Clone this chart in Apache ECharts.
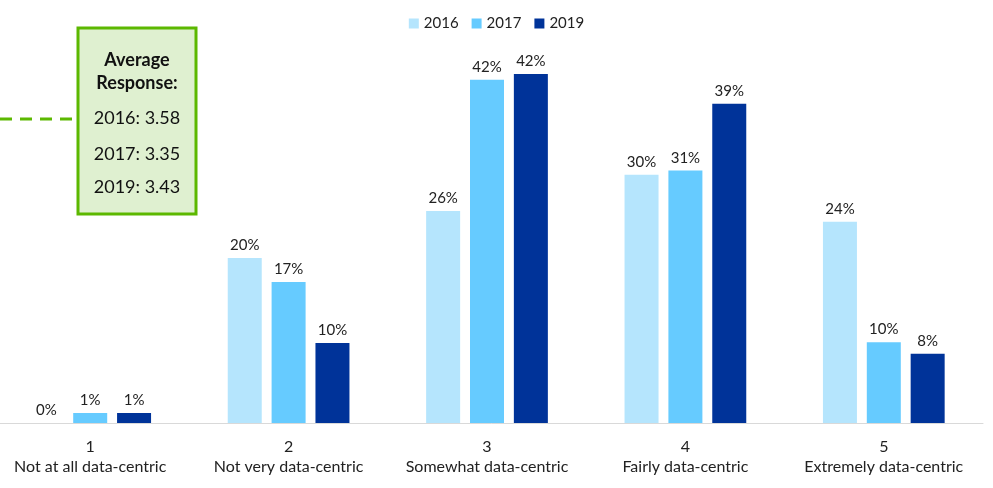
<!DOCTYPE html>
<html>
<head>
<meta charset="utf-8">
<script src="https://cdn.jsdelivr.net/npm/echarts@6/dist/echarts.min.js"></script>
<style>html,body{margin:0;padding:0;background:#fff}#c{width:993px;height:488px}</style>
</head>
<body>
<div id="c"></div>
<script>
const categories = ['1\nNot at all data-centric', '2\nNot very data-centric', '3\nSomewhat data-centric', '4\nFairly data-centric', '5\nExtremely data-centric'];
const seriesNames = ['2016', '2017', '2019'];
const values2016 = [0, 20.0, 25.7, 30.1, 24.4];
const values2017 = [1.2, 17.1, 41.6, 30.6, 9.8];
const values2019 = [1.2, 9.7, 42.3, 38.7, 8.4];
const averageTitle = ['Average', 'Response:'];
const averages = ['2016: 3.58', '2017: 3.35', '2019: 3.43'];
const colors = ['#b5e5fd', '#66cbff', '#003399'];

const chart = echarts.init(document.getElementById('c'));
const font = 'Lato, "Open Sans", sans-serif';
const mk = (name, data, color) => ({
  name, type: 'bar', data, barWidth: 34, barGap: '29%',
  itemStyle: { color },
  label: { show: true, position: 'top', distance: 5, color: '#222', fontSize: 15, fontFamily: font,
    formatter: p => Math.round(p.value) + '%' }
});
chart.setOption({
  animation: false,
  textStyle: { fontFamily: font },
  legend: { top: 11, left: 'center', itemWidth: 10, itemHeight: 10, itemGap: 13,
    textStyle: { fontSize: 15, color: '#222', fontFamily: font }, icon: 'rect' },
  grid: { left: -9, right: 10, top: 10.5, bottom: 65, containLabel: false, outerBoundsMode: 'none' },
  xAxis: { type: 'category', data: categories,
    axisLine: { lineStyle: { color: '#d9d9d9', width: 1 } }, axisTick: { show: false },
    axisLabel: { color: '#222', fontSize: 16, lineHeight: 20, margin: 14, fontFamily: font, interval: 0 } },
  yAxis: { type: 'value', min: 0, max: 50, show: false, splitLine: { show: false } },
  series: [mk(seriesNames[0], values2016, colors[0]), mk(seriesNames[1], values2017, colors[1]), mk(seriesNames[2], values2019, colors[2])],
  graphic: [
    { type: 'line', shape: { x1: 0, y1: 119, x2: 74, y2: 119 },
      style: { stroke: '#5cb800', lineWidth: 3, lineDash: [12, 8] } },
    { type: 'rect', shape: { x: 78, y: 28, width: 118, height: 186 },
      style: { fill: '#dff0d0', stroke: '#5cb800', lineWidth: 3 } },
    { type: 'text', x: 137, y: 60, style: { text: averageTitle[0], fill: '#111', font: 'bold 18px ' + font, align: 'center', verticalAlign: 'middle' } },
    { type: 'text', x: 137, y: 83, style: { text: averageTitle[1], fill: '#111', font: 'bold 18px ' + font, align: 'center', verticalAlign: 'middle' } },
    { type: 'text', x: 137, y: 118, style: { text: averages[0], fill: '#111', font: '18px ' + font, align: 'center', verticalAlign: 'middle' } },
    { type: 'text', x: 137, y: 154, style: { text: averages[1], fill: '#111', font: '18px ' + font, align: 'center', verticalAlign: 'middle' } },
    { type: 'text', x: 137, y: 187, style: { text: averages[2], fill: '#111', font: '18px ' + font, align: 'center', verticalAlign: 'middle' } }
  ]
});
</script>
</body>
</html>
